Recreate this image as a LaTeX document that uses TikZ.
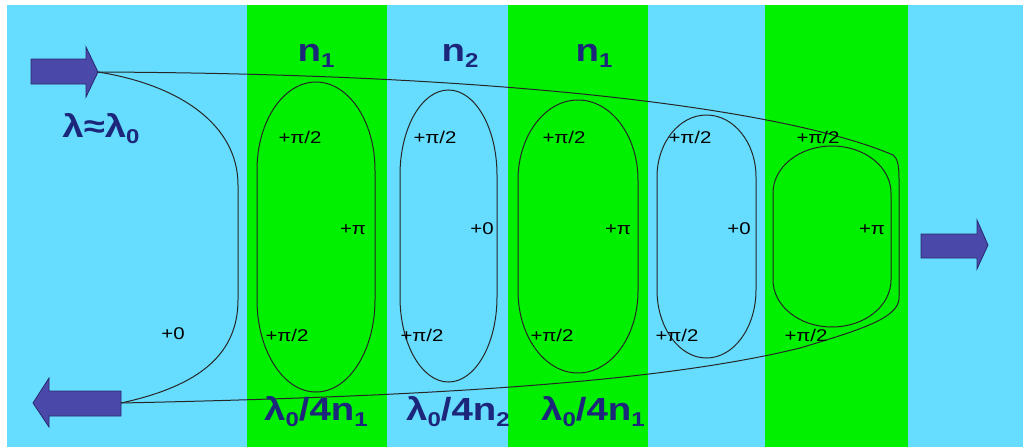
\documentclass[tikz,border=0pt]{standalone}
\usepackage{fontspec}
\setmainfont[FakeStretch=1.2]{Liberation Sans}
\definecolor{cyanbg}{RGB}{102,221,255}
\definecolor{greenbg}{RGB}{0,240,0}
\definecolor{navy}{RGB}{28,38,122}
\definecolor{arrowfill}{RGB}{74,72,168}
\definecolor{arrowline}{RGB}{40,40,110}
\tikzset{
  wire/.style={draw=black!85, line width=1pt},
  lobeline/.style={draw=black!85, line width=1pt},
  blockarrow/.style={fill=arrowfill, draw=arrowline, line width=0.8pt, line join=miter},
  lbl/.style={font=\fontsize{17}{17}\selectfont, text=black, anchor=base, inner sep=0pt},
  big/.style={font=\fontsize{32}{32}\selectfont\bfseries, text=navy, anchor=base, inner sep=0pt}
}
\newcommand\subidx[1]{\raisebox{-6pt}{\fontsize{20}{20}\selectfont\bfseries #1}}
% cx rx top bot ryt ryb
\newcommand\lobe[6]{%
  \pgfmathsetmacro\La{#1-#2}\pgfmathsetmacro\Lb{#1+#2}%
  \pgfmathsetmacro\Lt{#3+#5}\pgfmathsetmacro\Lu{#4-#6}%
  \pgfmathsetmacro\Lkx{0.5523*#2}%
  \pgfmathsetmacro\Lct{\Lt-0.5523*#5}\pgfmathsetmacro\Lcb{\Lu+0.5523*#6}%
  \draw[lobeline] (\La,\Lt) .. controls (\La,\Lct) and (#1-\Lkx,#3) .. (#1,#3)
    .. controls (#1+\Lkx,#3) and (\Lb,\Lct) .. (\Lb,\Lt) -- (\Lb,\Lu)
    .. controls (\Lb,\Lcb) and (#1+\Lkx,#4) .. (#1,#4)
    .. controls (#1-\Lkx,#4) and (\La,\Lcb) .. (\La,\Lu) -- cycle;}
\begin{document}
\begin{tikzpicture}[x=1pt,y=-1pt]
\useasboundingbox (0,0) rectangle (1023,447);
\fill[white] (0,0) rectangle (1023,447);
\fill[cyanbg] (7,5) rectangle (1023,447);
\fill[greenbg] (247,5) rectangle (387,447);
\fill[greenbg] (508,5) rectangle (648,447);
\fill[greenbg] (765,5) rectangle (908,447);

% block arrows
\coordinate (inTip) at (98,72);
\coordinate (outTail) at (121,403);
\draw[blockarrow] (31,59) -- (86,59) -- (86,47) -- (inTip) -- (86,97) -- (86,84) -- (31,84) -- cycle;
\draw[blockarrow] (outTail |- 0,391) -- (49,391) -- (49,378) -- (33,403) -- (49,427) -- (49,416) -- (outTail |- 0,416) -- cycle;
\draw[blockarrow] (921,234) -- (977,234) -- (977,220) -- (988,245) -- (977,269) -- (977,258) -- (921,258) -- cycle;

% loops
\lobe{316}{59}{82}{392}{88}{92}
\lobe{448.5}{48.5}{90}{382}{85}{85}
\lobe{578}{60}{100}{373}{80}{82}
\lobe{706.5}{49.5}{115}{358}{62}{68}
\lobe{832}{59}{146}{327}{47}{47}

% outer paths
\draw[wire] (inTip) .. controls (550,74) and (800,115) .. (893,155)
  .. controls (897,158) and (899,164) .. (899,178) -- (899,298)
  .. controls (899,318) and (860,330) .. (800,348)
  .. controls (650,385) and (400,397) .. (outTail);
\draw[wire] (inTip) .. controls (180,85) and (238,125) .. (238,185) -- (238,300)
  .. controls (238,360) and (190,388) .. (outTail);

% big labels
\node[big] (n1a) at (316,61) {n\subidx{1}};
\node[big] (n2) at (460,61) {n\subidx{2}};
\node[big] (n1b) at (594,61) {n\subidx{1}};
\node[big] (lam) at (101,137) {λ≈λ\subidx{0}};
\node[big] (d1) at (316,420) {λ\subidx{0}/4n\subidx{1}};
\node[big] (d2) at (458,420) {λ\subidx{0}/4n\subidx{2}};
\node[big] (d3) at (593,420) {λ\subidx{0}/4n\subidx{1}};

% phase labels
\node[lbl] (t1) at (300,143) {+π/2};
\node[lbl] (t2) at (435,143) {+π/2};
\node[lbl] (t3) at (564,143) {+π/2};
\node[lbl] (t4) at (690,143) {+π/2};
\node[lbl] (t5) at (818,143) {+π/2};
\node[lbl] (m1) at (353,234) {+π};
\node[lbl] (m2) at (482,234) {+0};
\node[lbl] (m3) at (618,234) {+π};
\node[lbl] (m4) at (739,234) {+0};
\node[lbl] (m5) at (872,234) {+π};
\node[lbl] (b1) at (287,341) {+π/2};
\node[lbl] (b2) at (422,341) {+π/2};
\node[lbl] (b3) at (552,341) {+π/2};
\node[lbl] (b4) at (677,341) {+π/2};
\node[lbl] (b5) at (806,341) {+π/2};
\node[lbl] (z0) at (173,339) {+0};
\end{tikzpicture}
\end{document}
